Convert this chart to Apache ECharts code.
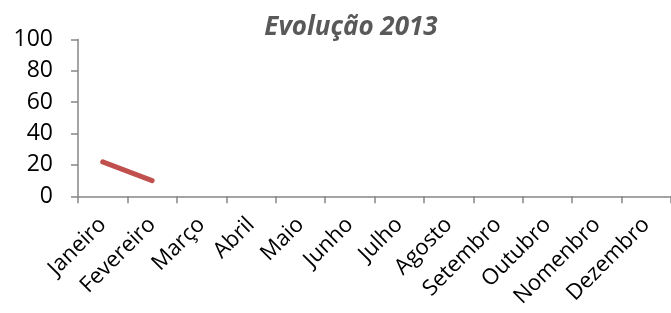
<!DOCTYPE html>
<html><head><meta charset="utf-8">
<script src="https://cdn.jsdelivr.net/npm/echarts@6/dist/echarts.min.js"></script>
<style>html,body{margin:0;padding:0;background:#fff}#c{width:671px;height:313px}</style>
</head><body><div id="c"></div>
<script>
var categories = ['Janeiro','Fevereiro','Março','Abril','Maio','Junho','Julho','Agosto','Setembro','Outubro','Nomenbro','Dezembro'];
var values = [22, 10, null, null, null, null, null, null, null, null, null, null];
var yTicks = [0, 20, 40, 60, 80, 100];
var titleText = 'Evolução 2013';

var chart = echarts.init(document.getElementById('c'), null, {renderer:'canvas'});
chart.setOption({
  animation:false,
  backgroundColor:'#fff',
  title:{text:titleText, left:346, top:10, textAlign:'center',
    textStyle:{fontFamily:'Open Sans', fontSize:26, fontWeight:'bold', fontStyle:'italic', color:'#595959'}},
  grid:{left:78, right:-1, top:39.5, bottom:116.7, containLabel:false},
  xAxis:{type:'category', data:categories, boundaryGap:true,
    axisLine:{lineStyle:{color:'#868686', width:1.5}},
    axisTick:{show:true, interval:0, length:7, lineStyle:{color:'#868686', width:1.5}},
    axisLabel:{interval:0, rotate:45, margin:25, fontFamily:'Open Sans', fontSize:22, color:'#000'}},
  yAxis:{type:'value', min:yTicks[0], max:yTicks[yTicks.length-1], interval:20,
    splitLine:{show:false},
    axisLine:{show:true, lineStyle:{color:'#868686', width:1.5}},
    axisTick:{show:true, length:7, lineStyle:{color:'#868686', width:1.5}},
    axisLabel:{margin:25, fontFamily:'Open Sans', fontSize:23, color:'#000'}},
  series:[{type:'line', data:values, symbol:'none', connectNulls:false,
    lineStyle:{color:'#C0504D', width:5, cap:'round'}}]
});
</script></body></html>
